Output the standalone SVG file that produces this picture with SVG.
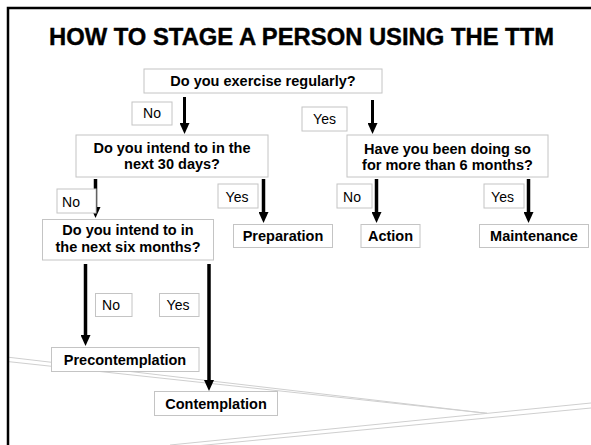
<svg xmlns="http://www.w3.org/2000/svg" width="591" height="445" viewBox="0 0 591 445">
<style>
.box{fill:#fff;stroke:#c4c4c4;stroke-width:1}
.q{font-family:"Liberation Sans",Arial,sans-serif;font-weight:bold;font-size:14.5px;fill:#000;text-anchor:middle}
.lb{font-family:"Liberation Sans",Arial,sans-serif;font-size:14px;fill:#000;text-anchor:middle}
.deco{stroke:#cfcfcf;stroke-width:1;fill:none}
.arr{stroke:#000;stroke-width:3.5;fill:none;marker-end:url(#ah)}
</style>
<defs>
<marker id="ah" markerUnits="userSpaceOnUse" markerWidth="11" markerHeight="10" viewBox="0 0 11 10" refX="0" refY="5" orient="auto">
<path d="M0,0 L11,5 L0,10 z" fill="#000"/>
</marker>
</defs>
<rect width="591" height="445" fill="#fff"/>
<g id="background">
<line class="deco" x1="9" y1="357.3" x2="487" y2="413.3"/>
<line class="deco" x1="9" y1="361.7" x2="487" y2="413.3"/>
<line class="deco" x1="170" y1="445" x2="591" y2="403"/>
<line class="deco" x1="185" y1="447" x2="591" y2="408"/>
<path d="M8,445 V8 H591" fill="none" stroke="#000" stroke-width="2.5"/>
</g>
<text x="49" y="45" font-family="'Liberation Sans',Arial,sans-serif" font-weight="bold" font-size="24" stroke="#000" stroke-width="0.4" textLength="505" lengthAdjust="spacingAndGlyphs">HOW TO STAGE A PERSON USING THE TTM</text>
<g id="connectors">
<line class="arr" style="stroke-width:3" x1="184.5" y1="97" x2="184.5" y2="123"/>
<line class="arr" style="stroke-width:3" x1="372.5" y1="100" x2="372.5" y2="123"/>
<line class="arr" x1="95.5" y1="179" x2="95.5" y2="207"/>
<line class="arr" x1="263.5" y1="179" x2="263.5" y2="212"/>
<line class="arr" x1="376.5" y1="179" x2="376.5" y2="212"/>
<line class="arr" x1="528.5" y1="179" x2="528.5" y2="212"/>
<line class="arr" x1="85.5" y1="264" x2="85.5" y2="335"/>
<line class="arr" x1="209" y1="264" x2="209" y2="380"/>
<g id="lbl-no1"><rect class="box" x="132" y="102" width="40" height="23"/><text class="lb" x="152" y="118">No</text></g>
<g id="lbl-yes1"><rect class="box" x="302" y="107" width="45" height="24"/><text class="lb" x="324.5" y="124">Yes</text></g>
<g id="lbl-no2"><rect class="box" x="57" y="189" width="39" height="24"/><text class="lb" x="71" y="207">No</text></g>
<g id="lbl-yes2"><rect class="box" x="218" y="184" width="40" height="24"/><text class="lb" x="237" y="202">Yes</text></g>
<g id="lbl-no3"><rect class="box" x="337" y="184" width="35" height="24"/><text class="lb" x="352" y="202">No</text></g>
<g id="lbl-yes3"><rect class="box" x="484" y="184" width="40" height="24"/><text class="lb" x="502.5" y="202">Yes</text></g>
<g id="lbl-no4"><rect class="box" x="95.5" y="293.5" width="36.5" height="23"/><text class="lb" x="111" y="310">No</text></g>
<g id="lbl-yes4"><rect class="box" x="159.5" y="293.5" width="39.5" height="23"/><text class="lb" x="178" y="310">Yes</text></g>
</g>
<g id="q-exercise"><rect class="box" x="144" y="69" width="238" height="24"/><text class="q" x="263" y="86">Do you exercise regularly?</text></g>
<g id="q-30days"><rect class="box" x="76" y="135" width="192" height="42"/><text class="q" x="172" y="153">Do you intend to in the</text><text class="q" x="172" y="168.5">next 30 days?</text></g>
<g id="q-6months"><rect class="box" x="347" y="135" width="201" height="42"/><text class="q" x="447.5" y="153.5">Have you been doing so</text><text class="q" x="447.5" y="169.5">for more than 6 months?</text></g>
<g id="q-sixmonths"><rect class="box" x="42.5" y="219.5" width="171" height="40.5"/><text class="q" x="128" y="235">Do you intend to in</text><text class="q" x="128" y="251.5">the next six months?</text></g>
<g id="preparation"><rect class="box" x="233.5" y="224.5" width="99" height="23"/><text class="q" x="283" y="241">Preparation</text></g>
<g id="action"><rect class="box" x="361" y="224.5" width="59" height="23"/><text class="q" x="390.5" y="241">Action</text></g>
<g id="maintenance"><rect class="box" x="479.5" y="224.5" width="109" height="23"/><text class="q" x="534" y="241">Maintenance</text></g>
<g id="precontemplation"><rect class="box" x="51.5" y="347.5" width="147.5" height="24"/><text class="q" x="125" y="364.5">Precontemplation</text></g>
<g id="contemplation"><rect class="box" x="154.5" y="391.5" width="123" height="24"/><text class="q" x="216" y="409">Contemplation</text></g>
</svg>
